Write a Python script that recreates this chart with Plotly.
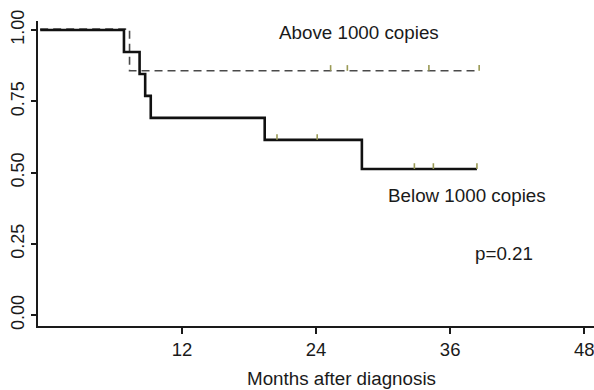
import plotly.graph_objects as go

# Kaplan-Meier step data (months, survival)
below_times = [-0.7, 6.8, 8.2, 8.7, 9.2, 19.4, 28.1, 38.4]
below_surv = [1.0, 0.923, 0.846, 0.769, 0.692, 0.615, 0.513, 0.513]
above_times = [-0.7, 7.3, 38.6]
above_surv = [1.003, 0.857, 0.857]

# censored observations
below_cens_t = [20.5, 24.1, 32.8, 34.5, 38.4]
below_cens_s = [0.615, 0.615, 0.513, 0.513, 0.513]
above_cens_t = [25.3, 26.8, 34.1, 38.6]
above_cens_s = [0.857, 0.857, 0.857, 0.857]

x_ticks = [12, 24, 36, 48]
y_ticks = [0, 0.25, 0.5, 0.75, 1.0]
y_tick_text = ["0.00", "0.25", "0.50", "0.75", "1.00"]

FONT = "Liberation Sans, Arial, Helvetica, sans-serif"
CENS_COLOR = "#9a9a55"
INK = "#1a1a1a"

fig = go.Figure()
fig.add_trace(go.Scatter(x=above_times, y=above_surv, mode="lines", line_shape="hv",
                         line=dict(color="#4a4a4a", width=1.6, dash="8px,5px"),
                         showlegend=False, hoverinfo="skip"))
fig.add_trace(go.Scatter(x=below_times, y=below_surv, mode="lines", line_shape="hv",
                         line=dict(color="#111111", width=2.6),
                         showlegend=False, hoverinfo="skip"))
for t, s in ((below_cens_t, below_cens_s), (above_cens_t, above_cens_s)):
    fig.add_trace(go.Scatter(
        x=t, y=s, mode="markers", marker=dict(size=1, color=CENS_COLOR, opacity=0),
        error_y=dict(type="data", symmetric=False, array=[0.02] * len(t),
                     arrayminus=[0] * len(t), width=0, thickness=1.6, color=CENS_COLOR),
        showlegend=False, hoverinfo="skip"))

fig.update_layout(
    width=594, height=390, template=None,
    paper_bgcolor="white", plot_bgcolor="white",
    margin=dict(l=38, r=0, t=21, b=64),
    font=dict(family=FONT, size=18.8, color=INK),
    xaxis=dict(range=[-0.895, 48.88], tickvals=x_ticks, ticktext=[str(v) for v in x_ticks],
               showgrid=False, zeroline=False, showline=True, linecolor=INK, linewidth=2,
               ticks="outside", ticklen=6, tickwidth=2, tickcolor=INK, automargin=False,
               ticklabeloverflow="allow", tickfont=dict(size=18.5)),
    yaxis=dict(range=[-0.0375, 1.0316], tickvals=y_ticks, ticktext=y_tick_text,
               tickangle=-90, showgrid=False, zeroline=False, showline=True,
               linecolor=INK, linewidth=2, ticks="outside", ticklen=5, tickwidth=2,
               tickcolor=INK, automargin=False, ticklabeloverflow="allow",
               tickfont=dict(size=18)),
    annotations=[
        dict(x=27.84, y=0.993, xref="x", yref="y", text="Above 1000 copies", showarrow=False,
             xanchor="center", yanchor="middle"),
        dict(x=37.5, y=0.421, xref="x", yref="y", text="Below 1000 copies", showarrow=False,
             xanchor="center", yanchor="middle"),
        dict(x=40.8, y=0.218, xref="x", yref="y", text="p=0.21", showarrow=False,
             xanchor="center", yanchor="middle"),
        dict(x=26.3, y=-0.172, xref="x", yref="paper", text="Months after diagnosis",
             showarrow=False, xanchor="center", yanchor="middle"),
    ],
)

fig.write_html("out.html", config={"displayModeBar": False},
               post_script="document.body.style.margin='0';document.body.style.overflow='hidden';")
